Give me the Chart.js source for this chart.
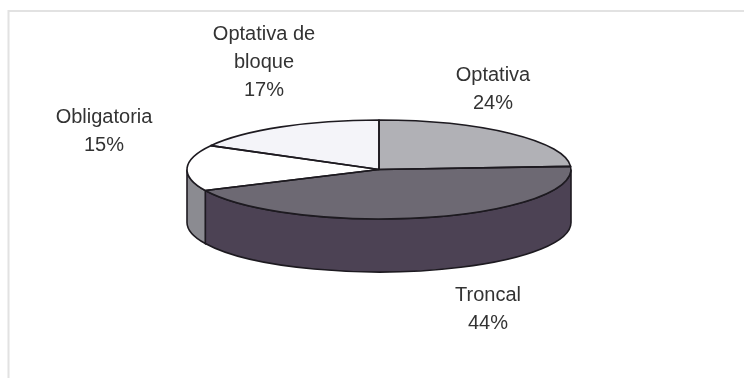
<!DOCTYPE html>
<html>
<head>
<meta charset="utf-8">
<style>
  html, body { margin: 0; padding: 0; background: #ffffff; }
  canvas { display: block; }
</style>
<script src="https://cdn.jsdelivr.net/npm/chart.js"></script>
</head>
<body>
<canvas id="myChart" width="744" height="378"></canvas>
<script>
const categories = ['Optativa', 'Troncal', 'Obligatoria', 'Optativa de bloque'];
const shares = [24, 44, 15, 17];
const topColors = ['#b1b1b6', '#6d6973', '#ffffff', '#f4f4f9'];
const wallColors = ['#85858a', '#4c4254', '#8b8b91', '#b8b8bc'];

// text lines and where each label sits, same order as categories
const labelLines = [['Optativa'], ['Troncal'], ['Obligatoria'], ['Optativa de', 'bloque']];
const labelCenters = [[493, 75], [488, 295], [104, 117], [264, 34]];

const tilt = { rx: 192, ry: 49.5, depth: 53 };
const outline = '#1d1a20';

// the pie is laid out round, then squashed to an ellipse while it is drawn
function squash(ctx, arc) {
  const sx = tilt.rx / arc.outerRadius;
  const sy = tilt.ry / arc.outerRadius;
  ctx.translate(arc.x, arc.y);
  ctx.scale(sx, sy);
  ctx.translate(-arc.x, -arc.y);
}

const pie3d = {
  id: 'pie3d',
  beforeDatasetsDraw(chart) {
    const ctx = chart.ctx;
    const arcs = chart.getDatasetMeta(0).data;
    // side wall, only the front half of the ellipse is visible
    arcs.forEach((arc, i) => {
      const from = Math.max(arc.startAngle, 0);
      const to = Math.min(arc.endAngle, Math.PI);
      if (to <= from) return;
      ctx.save();
      ctx.beginPath();
      ctx.ellipse(arc.x, arc.y, tilt.rx, tilt.ry, 0, from, to);
      ctx.ellipse(arc.x, arc.y + tilt.depth, tilt.rx, tilt.ry, 0, to, from, true);
      ctx.closePath();
      ctx.fillStyle = wallColors[i];
      ctx.fill();
      ctx.strokeStyle = outline;
      ctx.lineWidth = 1.6;
      ctx.stroke();
      ctx.restore();
    });
    ctx.save();
    squash(ctx, arcs[0]);
  },
  afterDatasetsDraw(chart) {
    const ctx = chart.ctx;
    ctx.restore();
    // wedge outlines go on after the transform is gone so the line stays even
    chart.getDatasetMeta(0).data.forEach((arc) => {
      ctx.save();
      ctx.beginPath();
      ctx.moveTo(arc.x, arc.y);
      ctx.ellipse(arc.x, arc.y, tilt.rx, tilt.ry, 0, arc.startAngle, arc.endAngle);
      ctx.closePath();
      ctx.strokeStyle = outline;
      ctx.lineWidth = 1.6;
      ctx.lineJoin = 'round';
      ctx.stroke();
      ctx.restore();
    });
  },
  afterDraw(chart) {
    const ctx = chart.ctx;
    ctx.save();
    // frame, only the top and left edges show
    ctx.strokeStyle = '#e2e2e2';
    ctx.lineWidth = 2;
    ctx.beginPath();
    ctx.moveTo(8.5, 378);
    ctx.lineTo(8.5, 11);
    ctx.lineTo(744, 11);
    ctx.stroke();
    ctx.font = '20px "Liberation Sans", Arial, sans-serif';
    ctx.fillStyle = '#333333';
    ctx.textAlign = 'center';
    ctx.textBaseline = 'middle';
    labelLines.forEach((lines, i) => {
      const [x, y] = labelCenters[i];
      const rows = lines.concat(shares[i] + '%');
      rows.forEach((row, r) => ctx.fillText(row, x, y + r * 28));
    });
    ctx.restore();
  }
};

new Chart(document.getElementById('myChart'), {
  type: 'pie',
  data: {
    labels: categories,
    datasets: [{
      data: shares,
      backgroundColor: topColors,
      borderWidth: 0
    }]
  },
  options: {
    responsive: false,
    animation: false,
    // puts the pie centre at 379,169.5
    layout: { padding: { left: 229, right: 215, top: 20, bottom: 59 } },
    plugins: { legend: { display: false }, tooltip: { enabled: false } }
  },
  plugins: [pie3d]
});
</script>
</body>
</html>
